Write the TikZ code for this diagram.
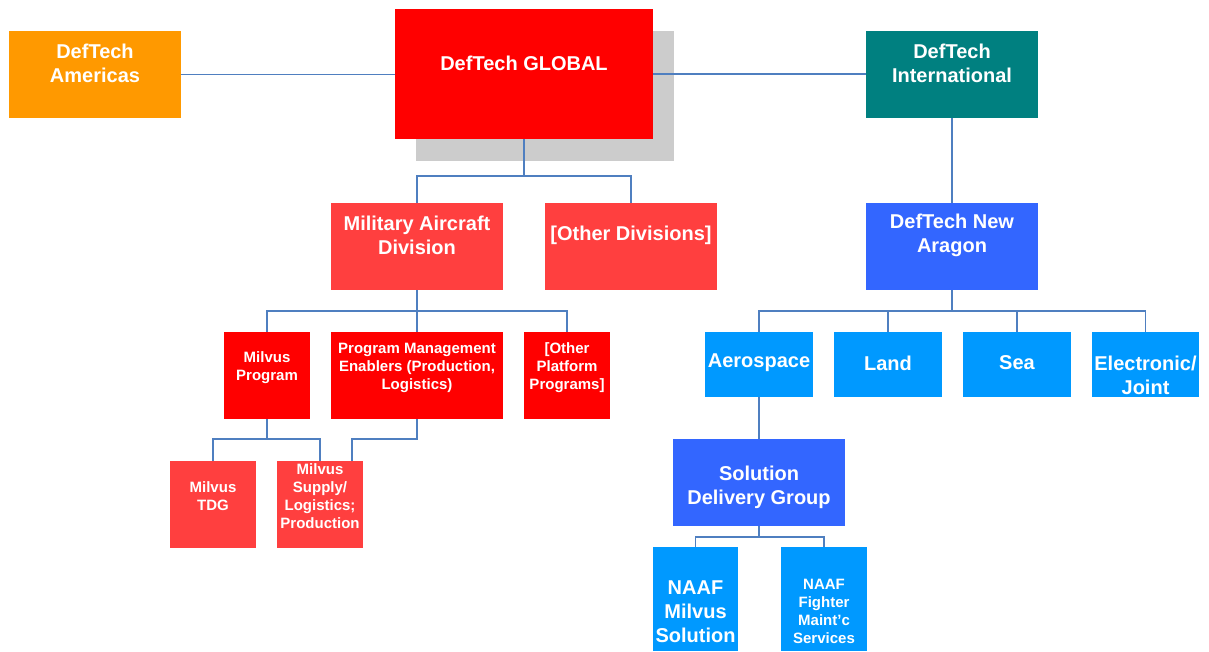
\documentclass[tikz,border=0pt]{standalone}
\usepackage{fontspec}
\setmainfont{Liberation Sans}
\definecolor{cOrange}{HTML}{FF9900}
\definecolor{cRed}{HTML}{FF0000}
\definecolor{cLtRed}{HTML}{FF3F3F}
\definecolor{cTeal}{HTML}{008080}
\definecolor{cBlue}{HTML}{3366FF}
\definecolor{cLtBlue}{HTML}{0099FF}
\definecolor{cShadow}{HTML}{CCCCCC}
\definecolor{cLine}{HTML}{4F7FC0}
\begin{document}
\begin{tikzpicture}[x=1pt,y=-1pt,
  box/.style={draw=none,fill=#1,inner sep=0pt,outer sep=0pt},
  big/.style={text=white,align=center,inner sep=0pt,yshift=-2pt,font=\bfseries\fontsize{20}{24}\selectfont},
  small/.style={text=white,align=center,inner sep=0pt,yshift=-1.5pt,font=\bfseries\fontsize{15}{18}\selectfont},
  link/.style={draw=cLine,line width=1.8pt,line join=miter}]
\useasboundingbox (0,0) rectangle (1209,651);

% shadow behind the top box
\fill[cShadow] (416,31) rectangle (674,161);

% boxes: (left,top) to (right,bottom)
\newcommand{\orgbox}[6]{%
  \node[box=#6,minimum width={#4-#2},minimum height={#5-#3}] (#1) at ({(#2+#4)/2},{(#3+#5)/2}) {};}
\orgbox{americas}{9}{31}{181}{118}{cOrange}
\orgbox{global}{395}{9}{653}{139}{cRed}
\orgbox{intl}{866}{31}{1038}{118}{cTeal}
\orgbox{mad}{331}{203}{503}{290}{cLtRed}
\orgbox{otherdiv}{545}{203}{717}{290}{cLtRed}
\orgbox{aragon}{866}{203}{1038}{290}{cBlue}
\orgbox{milprog}{224}{332}{310}{419}{cRed}
\orgbox{pme}{331}{332}{503}{419}{cRed}
\orgbox{otherplat}{524}{332}{610}{419}{cRed}
\orgbox{aero}{705}{332}{813}{397}{cLtBlue}
\orgbox{land}{834}{332}{942}{397}{cLtBlue}
\orgbox{sea}{963}{332}{1071}{397}{cLtBlue}
\orgbox{elec}{1092}{332}{1199}{397}{cLtBlue}
\orgbox{sdg}{673}{439}{845}{526}{cBlue}
\orgbox{tdg}{170}{461}{256}{548}{cLtRed}
\orgbox{supply}{277}{461}{363}{548}{cLtRed}
\orgbox{naafm}{653}{547}{738}{651}{cLtBlue}
\orgbox{naaff}{781}{547}{867}{651}{cLtBlue}

% labels
\node[big] (tAmericas) at (95,61) {DefTech\\Americas};
\node[big] (tGlobal) at (524,61) {DefTech GLOBAL};
\node[big] (tIntl) at (952,61) {DefTech\\International};
\node[big] (tMad) at (417,233) {Military Aircraft\\Division};
\node[big] (tOtherDiv) at (631,233) {[Other Divisions]};
\node[big] (tAragon) at (952,233) {DefTech New\\Aragon};
\node[small] (tMilProg) at (267,366) {Milvus\\Program};
\node[small] (tPme) at (417,366) {Program Management\\Enablers (Production,\\Logistics)};
\node[small] (tOtherPlat) at (567,366) {[Other\\Platform\\Programs]};
\node[big] (tAero) at (759,361) {Aerospace};
\node[big] (tLand) at (888,361) {Land};
\node[big] (tSea) at (1017,361) {Sea};
\node[big] (tElec) at (1145.5,373) {Electronic/\\Joint};
\node[big] (tSdg) at (759,485.5) {Solution\\Delivery Group};
\node[small] (tTdg) at (213,495) {Milvus\\TDG};
\node[small] (tSupply) at (320,495) {Milvus\\Supply/\\Logistics;\\Production};
\node[big] (tNaafM) at (695.5,610) {NAAF\\Milvus\\Solution};
\node[small] (tNaafF) at (824,610) {NAAF\\Fighter\\Maint’c\\Services};

% junction levels of the connector buses
\coordinate (busA) at (0,176);
\coordinate (busB) at (0,311);
\coordinate (busC) at (0,439);
\coordinate (busD) at (0,537);

% connectors
\draw[link] (americas.east) -- (americas.east -| global.west);
\draw[link] (global.east) -- (global.east -| intl.west);
\draw[link] (global.south) -- (global.south |- busA) -| (mad.north);
\draw[link] (global.south |- busA) -| (otherdiv.north);
\draw[link] (mad.south) -- (mad.south |- busB) -| (milprog.north);
\draw[link] (mad.south |- busB) -| (otherplat.north);
\draw[link] (mad.south |- busB) -- (pme.north);
\draw[link] (milprog.south) -- (milprog.south |- busC) -| (tdg.north);
\draw[link] (milprog.south |- busC) -| (supply.north);
\draw[link] (pme.south) -- (pme.south |- busC) -| ([xshift=32pt]supply.north);
\draw[link] (intl.south) -- (aragon.north);
\draw[link] (aragon.south) -- (aragon.south |- busB) -| (aero.north);
\draw[link] (aragon.south |- busB) -| (elec.north);
\draw[link] (land.north |- busB) -- (land.north);
\draw[link] (sea.north |- busB) -- (sea.north);
\draw[link] (aero.south) -- (sdg.north);
\draw[link] (sdg.south) -- (sdg.south |- busD) -| (naafm.north);
\draw[link] (sdg.south |- busD) -| (naaff.north);
\end{tikzpicture}
\end{document}
